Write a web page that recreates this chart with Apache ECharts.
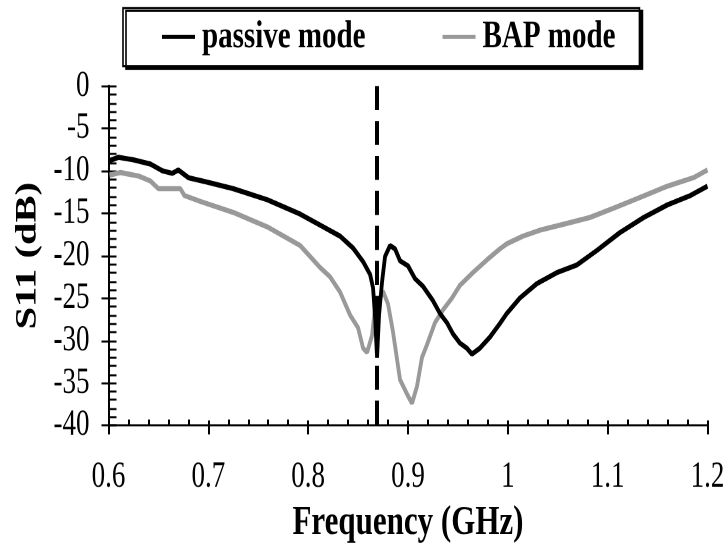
<!DOCTYPE html>
<html>
<head>
<meta charset="utf-8">
<script src="https://cdn.jsdelivr.net/npm/echarts@6/dist/echarts.min.js"></script>
<style>
html,body{margin:0;padding:0;background:#fff;overflow:hidden;}
#wrap{width:728px;height:551px;overflow:hidden;}
/* the reference figure is vertically stretched: draw at 1/1.35 height and stretch */
#chart{width:728px;height:408px;transform:scaleY(1.35);transform-origin:0 0;}
</style>
</head>
<body>
<div id="wrap"><div id="chart"></div></div>
<script>
// ---- data ----
const passiveFreq = [0.601,0.61,0.625,0.642,0.654,0.664,0.67,0.68,0.698,0.725,0.759,0.792,0.812,0.832,0.845,0.855,0.862,0.865,0.867,0.869,0.871,0.874,0.877,0.882,0.887,0.892,0.9,0.907,0.915,0.925,0.932,0.939,0.945,0.952,0.959,0.964,0.972,0.982,0.992,0.999,1.012,1.029,1.049,1.069,1.089,1.112,1.136,1.16,1.183,1.2];
const passiveS11  = [-8.8,-8.4,-8.7,-9.2,-10.0,-10.3,-9.9,-10.8,-11.3,-12.1,-13.4,-15.1,-16.4,-17.7,-19.1,-20.7,-22.2,-23.8,-27.2,-32.0,-27.0,-23.1,-20.1,-18.8,-19.2,-20.6,-21.2,-22.7,-23.6,-25.3,-26.8,-27.9,-29.2,-30.3,-30.9,-31.6,-30.9,-29.6,-28.0,-26.8,-25.0,-23.3,-22.0,-21.1,-19.4,-17.3,-15.5,-14.0,-12.9,-11.8];
const bapFreq = [0.601,0.612,0.63,0.642,0.65,0.672,0.676,0.692,0.725,0.759,0.792,0.812,0.822,0.832,0.842,0.85,0.855,0.859,0.864,0.867,0.872,0.875,0.88,0.885,0.892,0.899,0.904,0.909,0.914,0.919,0.927,0.935,0.944,0.952,0.965,0.979,0.992,0.999,1.015,1.032,1.059,1.082,1.106,1.133,1.16,1.186,1.2];
const bapS11  = [-10.5,-10.2,-10.6,-11.2,-12.1,-12.1,-12.9,-13.6,-14.9,-16.6,-18.8,-21.4,-22.5,-24.3,-27.0,-28.5,-30.9,-31.4,-29.4,-26.1,-25.0,-24.2,-25.7,-29.0,-34.6,-36.3,-37.4,-35.4,-32.0,-30.5,-27.9,-26.4,-25.0,-23.5,-22.0,-20.5,-19.2,-18.6,-17.7,-17.0,-16.2,-15.5,-14.4,-13.1,-11.8,-10.8,-9.9];
const markerFreq = 0.869;
const seriesNames = ['passive mode','BAP mode'];
const xTitle = 'Frequency (GHz)';
const yTitle = 'S11 (dB)';

const zip = (a,b) => a.map((v,i)=>[v,b[i]]);
const FONT = '"Liberation Serif","Times New Roman",serif';

const chart = echarts.init(document.getElementById('chart'), null, {devicePixelRatio:2});
const baseX = {type:'value', min:0.6, max:1.2, interval:0.1, position:'bottom', splitLine:{show:false}};
const baseY = {type:'value', min:-40, max:0, interval:5, position:'left', splitLine:{show:false}};
chart.setOption({
  backgroundColor:'#fff',
  animation:false,
  grid:{left:108.5, right:20.5, top:63.7, bottom:78.5, containLabel:false},
  legend:{
    left:123, top:5.9,
    padding:[7,24,7,39],
    itemGap:77, itemWidth:33, itemHeight:3,
    borderColor:'#000', borderWidth:1.6,
    backgroundColor:'#fff',
    shadowColor:'#000', shadowBlur:0, shadowOffsetX:3, shadowOffsetY:2.2,
    textStyle:{fontFamily:FONT, fontWeight:'bold', fontSize:29, color:'#000', padding:[0,0,0,2]},
    data:[{name:seriesNames[0], icon:'rect'},{name:seriesNames[1], icon:'rect'}]
  },
  xAxis:[
    Object.assign({}, baseX, {
      name:xTitle, nameLocation:'middle', nameGap:45,
      nameTextStyle:{fontFamily:FONT, fontWeight:'bold', fontSize:31, color:'#000'},
      axisLine:{show:true, onZero:false, lineStyle:{color:'#000', width:1.5}},
      axisTick:{show:true, inside:false, length:6.7, lineStyle:{color:'#000', width:2}},
      axisLabel:{fontFamily:FONT, fontSize:27, color:'#000', margin:25, formatter:v=>String(+v.toFixed(1))}
    }),
    Object.assign({}, baseX, {
      axisLine:{show:false, onZero:false},
      axisTick:{show:true, inside:true, length:3.7, lineStyle:{color:'#000', width:2}},
      minorTick:{show:true, splitNumber:5, length:4.4, lineStyle:{color:'#000', width:2}},
      axisLabel:{show:false}
    })
  ],
  yAxis:[
    Object.assign({}, baseY, {
      name:yTitle, nameLocation:'middle', nameGap:66, nameRotate:90,
      nameTextStyle:{fontFamily:FONT, fontWeight:'bold', fontSize:30, color:'#000'},
      axisLine:{show:true, onZero:false, lineStyle:{color:'#000', width:2}},
      axisTick:{show:true, inside:false, length:7, lineStyle:{color:'#000', width:1.5}},
      axisLabel:{fontFamily:FONT, fontSize:27, color:'#000', margin:19}
    }),
    Object.assign({}, baseY, {
      axisLine:{show:false, onZero:false},
      axisTick:{show:true, inside:true, length:8, lineStyle:{color:'#000', width:1.5}},
      minorTick:{show:true, splitNumber:5, length:8, lineStyle:{color:'#000', width:1.5}},
      axisLabel:{show:false}
    })
  ],
  series:[
    {
      name:seriesNames[1], type:'line', xAxisIndex:0, yAxisIndex:0,
      data:zip(bapFreq,bapS11), showSymbol:false, symbol:'none',
      lineStyle:{color:'#999999', width:3.8}, itemStyle:{color:'#999999'}, z:2
    },
    {
      name:seriesNames[0], type:'line', xAxisIndex:0, yAxisIndex:0,
      data:zip(passiveFreq,passiveS11), showSymbol:false, symbol:'none',
      lineStyle:{color:'#000', width:3.8}, itemStyle:{color:'#000'}, z:3,
      markLine:{
        silent:true, symbol:['none','none'], label:{show:false},
        lineStyle:{color:'#000', width:4, type:[17.8,8.1]},
        data:[[{coord:[markerFreq,0]},{coord:[markerFreq,-40]}]]
      }
    }
  ]
});
</script>
</body>
</html>
